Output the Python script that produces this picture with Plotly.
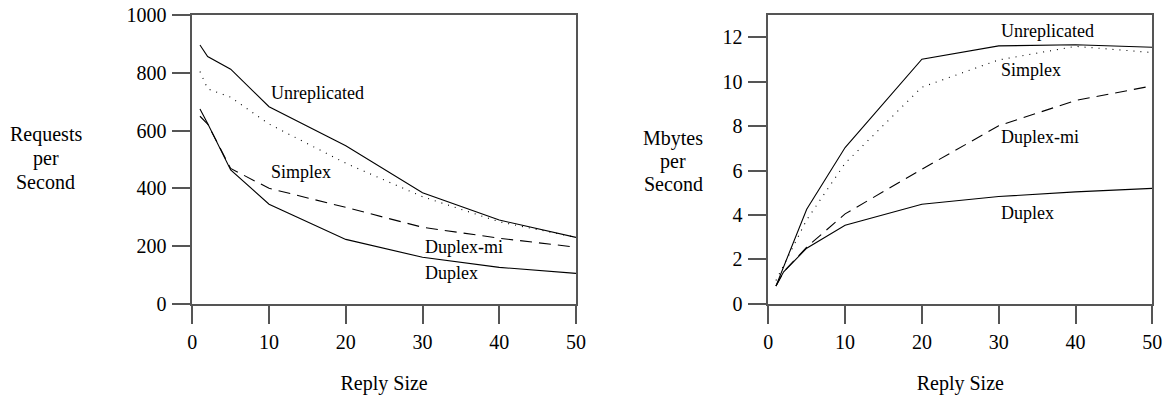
import plotly.graph_objects as go

reply_size = [1, 2, 5, 10, 20, 30, 40, 50]

# Left panel: Requests per Second
req_unreplicated = [897, 857, 813, 683, 548, 385, 290, 230]
req_simplex = [805, 745, 716, 623, 487, 371, 284, 230]
req_duplex_mi = [650, 623, 469, 400, 334, 265, 227, 196]
req_duplex = [675, 625, 464, 345, 223, 161, 126, 105]

# Right panel: Mbytes per Second
mb_unreplicated = [0.80, 1.65, 4.26, 7.04, 11.02, 11.62, 11.67, 11.56]
mb_simplex = [1.05, 1.75, 3.78, 6.33, 9.76, 10.99, 11.60, 11.32]
mb_duplex_mi = [0.80, 1.44, 2.55, 4.05, 6.06, 8.02, 9.16, 9.82]
mb_duplex = [0.80, 1.44, 2.50, 3.54, 4.48, 4.83, 5.04, 5.20]

series_names = ["Unreplicated", "Simplex", "Duplex-mi", "Duplex"]
x_ticks = [0, 10, 20, 30, 40, 50]
left_y_ticks = [0, 200, 400, 600, 800, 1000]
right_y_ticks = [0, 2, 4, 6, 8, 10, 12]
left_title_lines = ["Requests", "per", "Second"]
right_title_lines = ["Mbytes", "per", "Second"]

FONT = "Liberation Serif, Times New Roman, serif"
dashes = {
    "Unreplicated": "solid",
    "Simplex": "1px,6px",
    "Duplex-mi": "12px,7px",
    "Duplex": "solid",
}

fig = go.Figure()
left = [req_unreplicated, req_simplex, req_duplex_mi, req_duplex]
right = [mb_unreplicated, mb_simplex, mb_duplex_mi, mb_duplex]
for name, ys in zip(series_names, left):
    fig.add_trace(go.Scatter(x=reply_size, y=ys, mode="lines", name=name,
                             line=dict(color="black", width=1.1, dash=dashes[name]),
                             xaxis="x", yaxis="y", showlegend=False))
for name, ys in zip(series_names, right):
    fig.add_trace(go.Scatter(x=reply_size, y=ys, mode="lines", name=name,
                             line=dict(color="black", width=1.1, dash=dashes[name]),
                             xaxis="x2", yaxis="y2", showlegend=False))

# the page's body margin is removed below, so the figure fills the window
OFF = 0
W, H = 1166, 397


def fx(px):  # window pixel x -> paper fraction
    return (px - OFF) / W


def fy(py):  # window pixel y (from top) -> paper fraction
    return (H - (py - OFF)) / H


axis_common = dict(showline=True, linecolor="#555555", linewidth=1.5, mirror=True,
                   ticks="outside", ticklen=19, tickwidth=1.5, tickcolor="#555555",
                   showgrid=False, zeroline=False, automargin=False,
                   ticklabeloverflow="allow",
                   tickfont=dict(family=FONT, size=20, color="black"))

fig.update_layout(
    template="none",
    width=W, height=H,
    margin=dict(l=0, r=0, t=0, b=0, pad=0),
    paper_bgcolor="white", plot_bgcolor="white",
    font=dict(family=FONT, size=20, color="black"),
    xaxis=dict(domain=[fx(192.3), fx(576)], range=[0, 50], tickvals=x_ticks,
               anchor="y", ticklabelstandoff=1,
               title=dict(text="Reply Size", font=dict(family=FONT, size=20), standoff=24),
               **axis_common),
    yaxis=dict(domain=[fy(303.7), fy(15.3)], range=[0, 1000], tickvals=left_y_ticks,
               anchor="x", ticklabelstandoff=1, **axis_common),
    xaxis2=dict(domain=[fx(768.3), fx(1152.3)], range=[0, 50], tickvals=x_ticks,
                anchor="y2", ticklabelstandoff=1,
                title=dict(text="Reply Size", font=dict(family=FONT, size=20), standoff=24),
                **axis_common),
    yaxis2=dict(domain=[fy(303.7), fy(15.3)], range=[0, 13], tickvals=right_y_ticks,
                anchor="x2", ticklabelstandoff=1, **axis_common),
)

# Y axis titles (horizontal, one annotation per line)
for line, py in zip(left_title_lines, [134, 158, 182]):
    fig.add_annotation(text=line, xref="paper", yref="paper", x=fx(45.5), y=fy(py),
                       xanchor="center", yanchor="middle", showarrow=False,
                       font=dict(family=FONT, size=20, color="black"))
for line, py in zip(right_title_lines, [138, 161, 184]):
    fig.add_annotation(text=line, xref="paper", yref="paper", x=fx(673), y=fy(py),
                       xanchor="center", yanchor="middle", showarrow=False,
                       font=dict(family=FONT, size=20, color="black"))

# Series labels
left_labels = [(10, 730), (10, 457), (30, 197), (30, 106)]
right_labels = [(30, 12.3), (30, 10.54), (30, 7.52), (30, 4.09)]
for name, (lx, ly) in zip(series_names, left_labels):
    fig.add_annotation(text=name, x=lx, y=ly, xref="x", yref="y", xanchor="left",
                       yanchor="middle", showarrow=False,
                       font=dict(family=FONT, size=18, color="black"))
for name, (lx, ly) in zip(series_names, right_labels):
    fig.add_annotation(text=name, x=lx, y=ly, xref="x2", yref="y2", xanchor="left",
                       yanchor="middle", showarrow=False,
                       font=dict(family=FONT, size=18, color="black"))

fig.write_html("out.html", config={"displayModeBar": False},
               post_script="document.body.style.margin='0';document.body.style.overflow='hidden';")
